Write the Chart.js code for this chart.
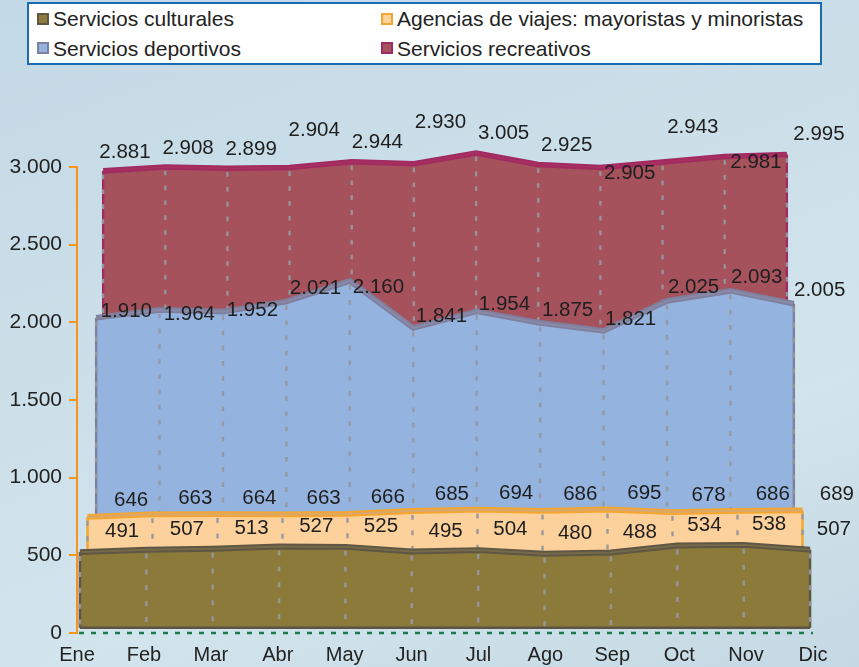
<!DOCTYPE html>
<html lang="es">
<head>
<meta charset="UTF-8">
<title>Servicios culturales, deportivos y recreativos</title>
<script src="https://cdn.jsdelivr.net/npm/chart.js"></script>
<style>
* { margin: 0; padding: 0; box-sizing: border-box; }
body {
    width: 859px; height: 667px; overflow: hidden;
    font-family: 'Liberation Sans', Arial, sans-serif;
    background: linear-gradient(160deg, #c3d9e5 0%, #cde0ea 45%, #d2e4ec 70%, #c4d9e4 100%);
}
#wrap { position: relative; width: 859px; height: 667px; }
#chart { position: absolute; left: 0; top: 0; }
#legend {
    position: absolute; left: 27px; top: 2px; width: 795px; height: 63px;
    background: #fff; border: 2px solid #1c6ab3;
    display: grid; grid-template-columns: 344px auto;
    padding-left: 8px; font-size: 21px; line-height: 29px; color: #222;
}
#legend span.item { display: flex; align-items: center; white-space: nowrap; }
#legend i { display: inline-block; width: 12px; height: 12px; border: 2px solid; margin-right: 4px; }
</style>
</head>
<body>
<div id="wrap">
    <canvas id="chart" width="859" height="667"></canvas>
    <div id="legend"></div>
</div>
<script>
const months = ['Ene', 'Feb', 'Mar', 'Abr', 'May', 'Jun', 'Jul', 'Ago', 'Sep', 'Oct', 'Nov', 'Dic'];
const culturales  = [491, 507, 513, 527, 525, 495, 504, 480, 488, 534, 538, 507];
const agencias    = [155, 156, 151, 136, 141, 190, 190, 206, 207, 144, 148, 182];
const deportivos  = [1264, 1301, 1288, 1358, 1494, 1156, 1260, 1189, 1126, 1347, 1407, 1316];
const recreativos = [971, 944, 947, 883, 784, 1089, 1051, 1050, 1084, 918, 888, 990];

const names = ['Servicios culturales', 'Agencias de viajes: mayoristas y minoristas',
               'Servicios deportivos', 'Servicios recreativos'];
const series = [culturales, agencias, deportivos, recreativos];
const fills = ['#8c7a3a', '#fdd19b', '#94b3de', '#a6525d'];
const faces = ['#5f5644', '#f4a62e', '#7f7f9e', '#a02a62'];
const faceInner = ['#776a4a', '#d8a873', '#8b89a8', '#a8305f'];

// fake depth: each series further back is shrunk towards a vanishing point
const depthScale = [0.992, 0.9715, 0.948, 0.929];
const vanishY = -20;

// data label placement
const labScale = [0.967, 0.959, 0.942, 0.943];
const labDx = [33, 39, 28, 27];
const labDy = [-25, -32, -31, -33];
const nudge = [
    [0, 0, 0, 0, 0, 0, 0, 0, 0, 0, 0, 0],
    [0, 0, 0, 0, 0, 0, 0, 0, 0, 0, 0, 0],
    [6, 17, 12, 0, 21, 0, 6, 0, 0, 0, 0, 0],
    [0, 0, 0, -19, 0, -23, 0, 0, 25, -16, 25, 0]
];

function fmt(v) {
    return String(v).replace(/\B(?=(\d{3})+(?!\d))/g, '.');
}

function applyDepth(chart, i) {
    const ctx = chart.ctx;
    const cx = (chart.chartArea.left + chart.chartArea.right) / 2;
    const s = depthScale[i];
    ctx.save();
    ctx.translate(cx, vanishY);
    ctx.scale(s, s);
    ctx.translate(-cx, -vanishY);
}

const depthPlugin = {
    id: 'depth',
    beforeDatasetsDraw(chart) {
        applyDepth(chart, chart.data.datasets.length - 1);
    },
    afterDatasetDraw(chart, args) {
        const ctx = chart.ctx;
        const i = args.index;
        const pts = args.meta.data;
        const base = chart.scales.y.getPixelForValue(0);
        // lighter middle of the top face
        ctx.beginPath();
        pts.forEach((p, j) => j ? ctx.lineTo(p.x, p.y) : ctx.moveTo(p.x, p.y));
        ctx.strokeStyle = faceInner[i];
        ctx.lineWidth = 2;
        ctx.stroke();
        // side edges
        ctx.strokeStyle = faces[i];
        ctx.lineWidth = 2.5;
        [pts[0], pts[pts.length - 1]].forEach(p => {
            ctx.beginPath(); ctx.moveTo(p.x, p.y); ctx.lineTo(p.x, base); ctx.stroke();
        });
        if (i === 0) {
            ctx.beginPath();
            ctx.moveTo(pts[0].x, base);
            ctx.lineTo(pts[pts.length - 1].x, base);
            ctx.strokeStyle = '#5b5545';
            ctx.stroke();
        }
        // dashed month lines inside each band
        ctx.setLineDash([5, 11]);
        ctx.strokeStyle = 'rgba(150,152,158,0.95)';
        ctx.lineWidth = 2.5;
        pts.forEach(p => {
            ctx.beginPath(); ctx.moveTo(p.x, p.y + 4); ctx.lineTo(p.x, base); ctx.stroke();
        });
        ctx.setLineDash([]);
        ctx.restore();
        if (i > 0) applyDepth(chart, i - 1);
    },
    afterDatasetsDraw(chart) {
        const ctx = chart.ctx;
        const xs = chart.scales.x, ys = chart.scales.y;
        const cx = (chart.chartArea.left + chart.chartArea.right) / 2;
        const base = ys.getPixelForValue(0);
        // green dotted baseline
        ctx.save();
        ctx.setLineDash([5, 7]);
        ctx.strokeStyle = '#1b7a4e';
        ctx.lineWidth = 2.5;
        ctx.beginPath();
        ctx.moveTo(chart.chartArea.left + 2, base);
        ctx.lineTo(chart.chartArea.right, base);
        ctx.stroke();
        ctx.restore();
        // cumulative value labels
        ctx.save();
        ctx.font = '20.5px "Liberation Sans", Arial, sans-serif';
        ctx.fillStyle = '#1e1e1e';
        ctx.textAlign = 'center';
        ctx.textBaseline = 'middle';
        const cum = months.map(() => 0);
        series.forEach((arr, i) => {
            arr.forEach((v, j) => {
                cum[j] += v;
                const x = cx + (xs.getPixelForValue(j) - cx) * labScale[i] + labDx[i];
                const y = ys.getPixelForValue(cum[j]) + labDy[i] + nudge[i][j];
                ctx.fillText(fmt(cum[j]), x, y);
            });
        });
        ctx.restore();
    }
};

const chart = new Chart(document.getElementById('chart'), {
    type: 'line',
    data: {
        labels: months,
        datasets: series.map((arr, i) => ({
            label: names[i],
            data: arr,
            fill: 'origin',
            backgroundColor: fills[i],
            borderColor: faces[i],
            borderWidth: 6,
            pointRadius: 0,
            tension: 0,
            clip: false
        }))
    },
    options: {
        responsive: false,
        animation: false,
        layout: { padding: { left: 0, right: 46, top: 167, bottom: 0 } },
        plugins: { legend: { display: false }, tooltip: { enabled: false } },
        scales: {
            x: {
                offset: false,
                grid: { display: false, drawTicks: false },
                border: { display: false },
                ticks: { color: '#222', font: { size: 20, family: '"Liberation Sans", Arial' }, padding: 10, maxRotation: 0, autoSkip: false },
                afterFit(scale) { scale.height = 34; }
            },
            y: {
                stacked: true,
                min: 0,
                max: 3000,
                grid: { drawOnChartArea: false, color: '#f7941d', lineWidth: 2, tickLength: 8 },
                border: { color: '#f7941d', width: 2 },
                ticks: { stepSize: 500, color: '#222', padding: 7, font: { size: 21, family: '"Liberation Sans", Arial' }, callback: v => fmt(v) },
                afterFit(scale) { scale.width = 77; }
            }
        }
    },
    plugins: [depthPlugin]
});

// two-column legend box
const legend = document.getElementById('legend');
chart.data.datasets.forEach((ds, i) => {
    const item = document.createElement('span');
    item.className = 'item';
    const box = document.createElement('i');
    box.style.background = fills[i];
    box.style.borderColor = faces[i];
    item.appendChild(box);
    item.appendChild(document.createTextNode(ds.label));
    legend.appendChild(item);
});
</script>
</body>
</html>
